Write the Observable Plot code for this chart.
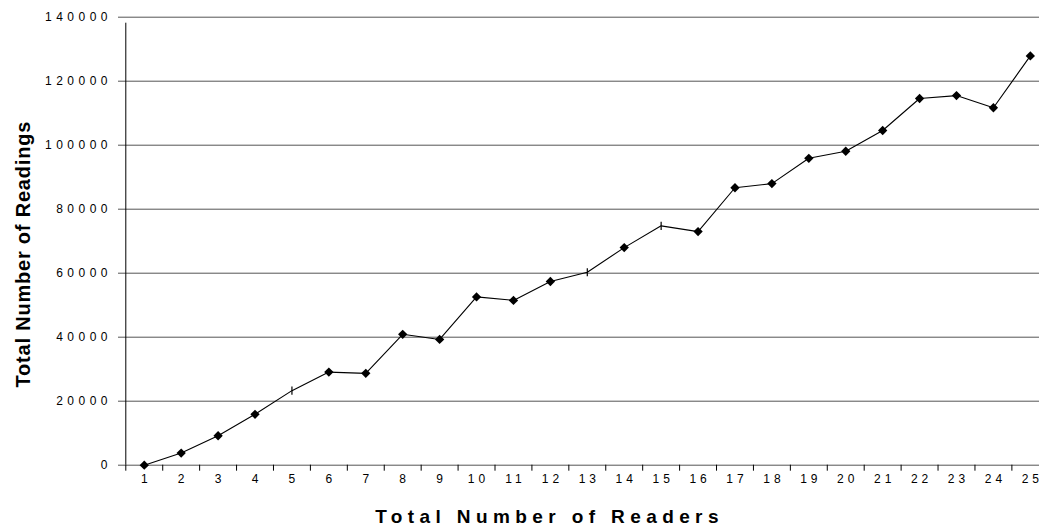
<!DOCTYPE html>
<html><head><meta charset="utf-8">
<script src="https://cdn.jsdelivr.net/npm/d3@7"></script>
<script src="https://cdn.jsdelivr.net/npm/@observablehq/plot@0.6"></script>
<style>
html,body{margin:0;padding:0;background:#fff;overflow:hidden;width:1039px;height:529px;}
g[aria-label="x-axis tick label"] text{letter-spacing:4px;}
g[aria-label="y-axis tick label"] text{letter-spacing:4.5px;}
</style></head><body><div id="chart"></div>
<script>
const readers = [1,2,3,4,5,6,7,8,9,10,11,12,13,14,15,16,17,18,19,20,21,22,23,24,25];
const readings = [0, 3800, 9200, 15900, 23300, 29100, 28700, 40900, 39300, 52600, 51500, 57400, 60300, 68000, 74800, 73000, 86700, 88000, 95900, 98100, 104600, 114600, 115500, 111700, 127900];
const yTicks = [0, 20000, 40000, 60000, 80000, 100000, 120000, 140000];
const tickMarkerReaders = [5, 13, 15];
const xTitle = "Total Number of Readers";
const yTitle = "Total Number of Readings";

const data = readers.map((r, i) => ({readers: r, readings: readings[i], tick: tickMarkerReaders.includes(r)}));
const boundaries = readers.map(r => r - 0.5).concat([readers[readers.length - 1] + 0.5]);

const vTick = {draw(ctx, size) { const h = Math.sqrt(size) * 0.55; ctx.moveTo(0, -h); ctx.lineTo(0, h); }};

const chart = Plot.plot({
  width: 1039,
  height: 529,
  marginLeft: 125,
  marginRight: 0,
  marginTop: 16.7,
  marginBottom: 64.3,
  style: {fontFamily: "'Liberation Sans', Arial, sans-serif", fontSize: "12px", background: "#fff", color: "#000", overflow: "hidden"},
  x: {type: "linear", domain: [boundaries[0], boundaries[boundaries.length - 1]], range: [125.3, 1048.3]},
  y: {domain: [d3.min(yTicks), d3.max(yTicks)], range: [464.7, 16.7]},
  marks: [
    Plot.ruleY(yTicks, {stroke: "#555", strokeWidth: 1, insetLeft: -7}),
    Plot.ruleX([boundaries[0]], {y1: d3.min(yTicks), y2: d3.max(yTicks), stroke: "#000", insetBottom: -6}),
    Plot.axisX(boundaries, {tickSize: 6, tickFormat: () => "", stroke: "#000", label: null}),
    Plot.axisX(readers, {tickSize: 0, tickPadding: 9.5, dx: 2, label: null, fontSize: 12}),
    Plot.axisY(yTicks, {tickSize: 0, tickPadding: 13.5, label: null, fontSize: 12, tickFormat: d3.format("d")}),
    Plot.line(data, {x: "readers", y: "readings", stroke: "#000", strokeWidth: 1.1}),
    Plot.dot(data.filter(d => !d.tick), {x: "readers", y: "readings", symbol: "diamond2", r: 4.2, fill: "#000", stroke: "none"}),
    Plot.dot(data.filter(d => d.tick), {x: "readers", y: "readings", symbol: vTick, r: 4.2, fill: "none", stroke: "#000", strokeWidth: 1.2}),
    Plot.text([yTitle], {text: d => d, frameAnchor: "left", textAnchor: "middle", rotate: -90, dx: -101.5, dy: 13, fontSize: 20, fontWeight: "bold"}),
    Plot.text([xTitle], {text: d => d, frameAnchor: "bottom", textAnchor: "middle", lineAnchor: "bottom", dx: -33, dy: 57.6, fontSize: 19, fontWeight: "bold"})
  ]
});
d3.select(chart).selectAll("text").filter(function() { return this.textContent === yTitle; }).style("letter-spacing", "0.8px");
d3.select(chart).selectAll("text").filter(function() { return this.textContent === xTitle; }).style("letter-spacing", "5.4px");
document.getElementById("chart").append(chart);
</script></body></html>
